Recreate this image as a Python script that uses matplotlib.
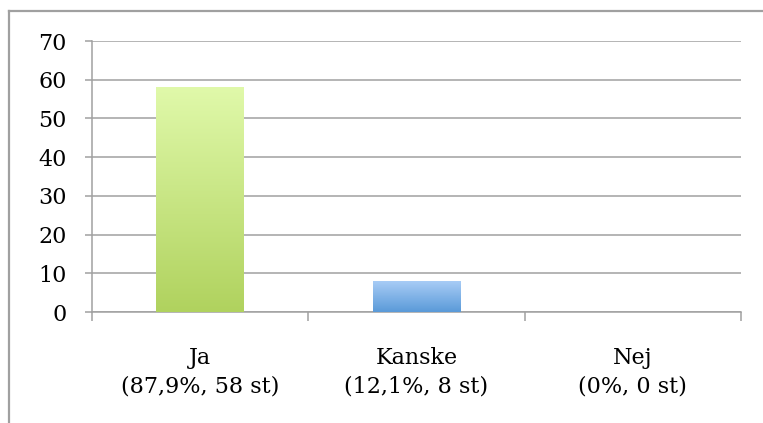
import numpy as np
import matplotlib
matplotlib.use("Agg")
import matplotlib.pyplot as plt
from matplotlib.colors import LinearSegmentedColormap
from matplotlib.lines import Line2D

kategorier = ["Ja\n(87,9%, 58 st)", "Kanske\n(12,1%, 8 st)", "Nej\n(0%, 0 st)"]
antal = [58, 8, 0]
farg_topp = ["#e0f9aa", "#a8ccf6", "#dddddd"]
farg_botten = ["#b0d25e", "#5a9ad8", "#bbbbbb"]
yticks = [0, 10, 20, 30, 40, 50, 60, 70]

plt.rcParams["font.family"] = ["DejaVu Serif"]
grid_col = "#a0a0a0"

fig = plt.figure(figsize=(7.63, 4.23), dpi=100)
ax = fig.add_axes([92 / 763, 111 / 423, 649 / 763, 271 / 423])

x = np.arange(len(kategorier))
bars = ax.bar(x, antal, width=0.405, color="none", zorder=3)

# gradient i varje stapel
grad = np.linspace(1, 0, 256).reshape(-1, 1)
for b, top, bot in zip(bars, farg_topp, farg_botten):
    h = b.get_height()
    if h <= 0:
        continue
    cmap = LinearSegmentedColormap.from_list("g", [bot, top])
    x0 = b.get_x()
    ax.imshow(grad, cmap=cmap, aspect="auto", zorder=3,
              extent=[x0, x0 + b.get_width(), 0, h], vmin=0, vmax=1)

ax.set_xlim(-0.5, 2.5)
ax.set_ylim(0, 70)
ax.set_yticks(yticks)
ax.yaxis.grid(True, color=grid_col, linewidth=1.1, zorder=0)
ax.set_axisbelow(True)

ax.set_xticks(x)
ax.set_xticklabels(kategorier, fontsize=16, linespacing=1.38)
ax.set_xticks([-0.5, 0.5, 1.5, 2.5], minor=True)
ax.tick_params(axis="x", which="major", length=0, pad=25)
ax.tick_params(axis="x", which="minor", length=6.5, width=1.1, color=grid_col)
ax.tick_params(axis="y", length=5, width=1.1, color=grid_col, labelsize=16, pad=13)

for s in ["top", "right"]:
    ax.spines[s].set_visible(False)
for s in ["left", "bottom"]:
    ax.spines[s].set_color(grid_col)
    ax.spines[s].set_linewidth(1.1)

# ram runt diagrammet (går utanför bilden till höger och nedåt)
W, H = 763, 423
fig.add_artist(Line2D([9 / W, 9 / W], [-0.05, (H - 11) / H], color=grid_col, lw=1.6))
fig.add_artist(Line2D([9 / W, 1.05], [(H - 11) / H, (H - 11) / H], color=grid_col, lw=1.6))

fig.savefig("out.png", dpi=100)
